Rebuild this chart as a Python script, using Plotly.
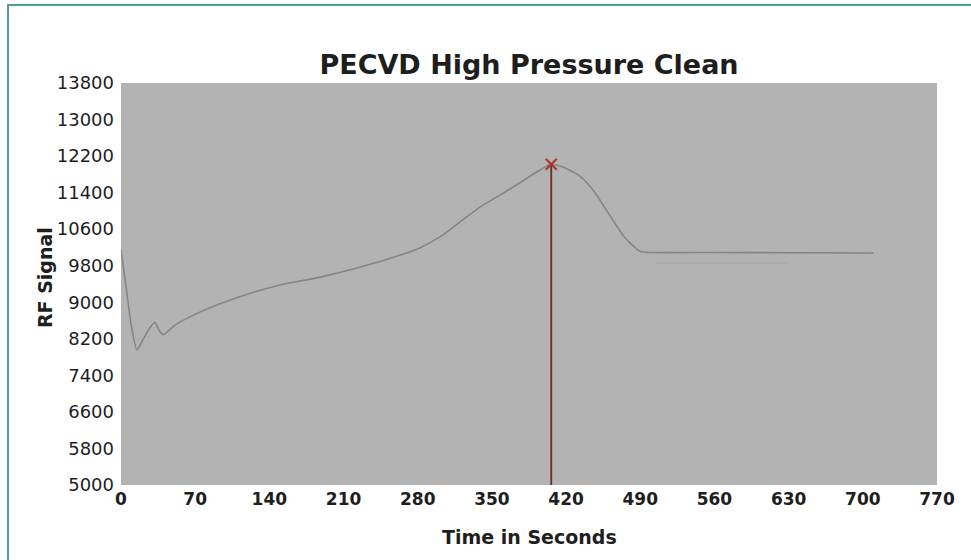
import plotly.graph_objects as go

# ---- data ----
time_s = [0, 5, 10, 15, 20, 26, 32, 36, 40, 51, 75, 112, 150, 188, 226, 263, 282, 301,
          320, 339, 358, 376, 395, 406, 419, 433, 447, 461, 476, 490, 499, 560, 630, 710]
rf_signal = [10150, 9300, 8450, 7960, 8150, 8400, 8560, 8380, 8290, 8500, 8790, 9120,
             9380, 9550, 9770, 10030, 10190, 10430, 10760, 11090, 11350, 11610, 11890,
             12020, 11940, 11760, 11410, 10910, 10400, 10110, 10090, 10090, 10085, 10080]

ghost_time = [505, 630]
ghost_signal = [9860, 9860]

peak_time = 406
peak_value = 12020

x_ticks = list(range(0, 771, 70))
y_ticks = list(range(5000, 13801, 800))
y_labels = [str(v) for v in y_ticks]

FONT = "DejaVu Sans"
TXT = "#1e1e1e"

fig = go.Figure()

fig.add_trace(go.Scatter(x=ghost_time, y=ghost_signal, mode="lines",
                         line=dict(color="#a6a6a6", width=1.2), hoverinfo="skip",
                         showlegend=False))
fig.add_trace(go.Scatter(x=time_s, y=rf_signal, mode="lines",
                         line=dict(color="#858585", width=1.6, shape="spline", smoothing=0.6),
                         showlegend=False))
fig.add_trace(go.Scatter(x=[peak_time, peak_time], y=[y_ticks[0], peak_value], mode="lines",
                         line=dict(color="#6e2a2a", width=1.8), showlegend=False))
fig.add_trace(go.Scatter(x=[peak_time], y=[peak_value], mode="markers",
                         marker=dict(symbol="x-thin", size=11,
                                     line=dict(color="#b03030", width=2)),
                         showlegend=False))

fig.update_layout(
    width=971, height=560,
    margin=dict(l=121, r=34, t=83, b=75),
    paper_bgcolor="white",
    plot_bgcolor="#b3b3b3",
    title=dict(text="PECVD High Pressure Clean", x=0.5, xref="paper",
               y=1 - 65 / 560, yref="container", yanchor="middle", xanchor="center",
               font=dict(family=FONT, size=27, color=TXT, weight="bold")),
    xaxis=dict(range=[0, 770], tickvals=x_ticks, showgrid=False, zeroline=False,
               showline=False, ticks="", ticklabelstandoff=2,
               tickfont=dict(family=FONT, size=17, color=TXT, weight="bold")),
    yaxis=dict(range=[5000, 13800], tickvals=y_ticks, ticktext=y_labels,
               showgrid=False, zeroline=False, showline=False, ticks="",
               ticklabelstandoff=6,
               tickfont=dict(family=FONT, size=18, color=TXT)),
    annotations=[
        dict(text="Time in Seconds", xref="paper", yref="paper", x=0.5, y=-0.129,
             xanchor="center", yanchor="middle", showarrow=False,
             font=dict(family=FONT, size=19, color=TXT, weight="bold")),
        dict(text="RF Signal", xref="paper", yref="paper", x=-0.093, y=0.515,
             xanchor="center", yanchor="middle", showarrow=False, textangle=-90,
             font=dict(family=FONT, size=19, color=TXT, weight="bold")),
    ],
    shapes=[
        dict(type="rect", xref="paper", yref="paper",
             x0=(8 - 121) / 816, x1=(990 - 121) / 816,
             y0=(485 - 580) / 402, y1=(485 - 5) / 402,
             line=dict(color="#4f9e98", width=2), fillcolor="rgba(0,0,0,0)", layer="below"),
    ],
)

fig.write_html("out.html")
